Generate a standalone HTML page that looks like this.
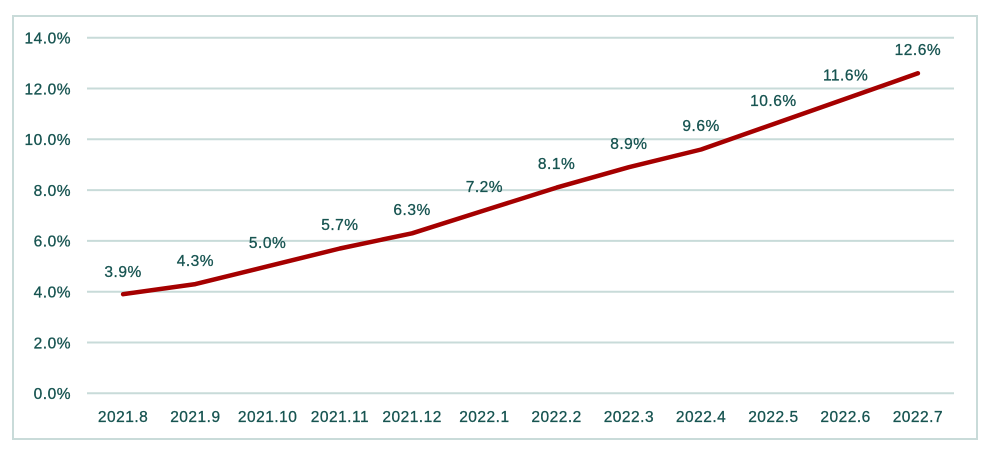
<!DOCTYPE html>
<html><head><meta charset="utf-8"><style>
html,body{margin:0;padding:0;background:#fff;}
svg{display:block;}
text{font-family:"Liberation Sans",sans-serif;font-size:15.5px;fill:#175451;stroke:#175451;stroke-width:0.3px;letter-spacing:0.5px;}
</style></head><body>
<svg width="998" height="454" viewBox="0 0 998 454" xmlns="http://www.w3.org/2000/svg">
<rect x="0" y="0" width="998" height="454" fill="#fff"/>
<rect x="13" y="16" width="964" height="423" fill="none" stroke="#c9dbd9" stroke-width="2"/>
<g stroke="#c8dbd9" stroke-width="2">
<line x1="87" y1="37.7" x2="954" y2="37.7"/>
<line x1="87" y1="88.5" x2="954" y2="88.5"/>
<line x1="87" y1="139.3" x2="954" y2="139.3"/>
<line x1="87" y1="190.1" x2="954" y2="190.1"/>
<line x1="87" y1="240.9" x2="954" y2="240.9"/>
<line x1="87" y1="291.7" x2="954" y2="291.7"/>
<line x1="87" y1="342.5" x2="954" y2="342.5"/>
<line x1="87" y1="393.3" x2="954" y2="393.3"/>
</g>
<g text-anchor="end">
<text x="71" y="43.5">14.0%</text>
<text x="71" y="94.3">12.0%</text>
<text x="71" y="145.1">10.0%</text>
<text x="71" y="195.9">8.0%</text>
<text x="71" y="246.7">6.0%</text>
<text x="71" y="297.5">4.0%</text>
<text x="71" y="348.3">2.0%</text>
<text x="71" y="399.1">0.0%</text>
</g>
<g text-anchor="middle">
<text x="123.1" y="422">2021.8</text>
<text x="195.4" y="422">2021.9</text>
<text x="267.6" y="422">2021.10</text>
<text x="339.9" y="422">2021.11</text>
<text x="412.1" y="422">2021.12</text>
<text x="484.4" y="422">2022.1</text>
<text x="556.6" y="422">2022.2</text>
<text x="628.9" y="422">2022.3</text>
<text x="701.1" y="422">2022.4</text>
<text x="773.4" y="422">2022.5</text>
<text x="845.6" y="422">2022.6</text>
<text x="917.9" y="422">2022.7</text>
</g>
<polyline fill="none" stroke="#a50000" stroke-width="4.5" stroke-linejoin="round" stroke-linecap="round"
points="123.1,294.2 195.4,284.1 267.6,266.3 339.9,248.5 412.1,233.3 484.4,210.4 556.6,187.6 628.9,167.2 701.1,149.5 773.4,124.1 845.6,98.7 917.9,73.3"/>
<g text-anchor="middle">
<text x="123.1" y="277">3.9%</text>
<text x="195.4" y="266">4.3%</text>
<text x="267.6" y="248">5.0%</text>
<text x="339.9" y="230">5.7%</text>
<text x="412.1" y="215">6.3%</text>
<text x="484.4" y="192">7.2%</text>
<text x="556.6" y="169">8.1%</text>
<text x="628.9" y="149">8.9%</text>
<text x="701.1" y="131">9.6%</text>
<text x="773.4" y="106">10.6%</text>
<text x="845.6" y="80.5">11.6%</text>
<text x="917.9" y="55">12.6%</text>
</g>
</svg>
</body></html>
